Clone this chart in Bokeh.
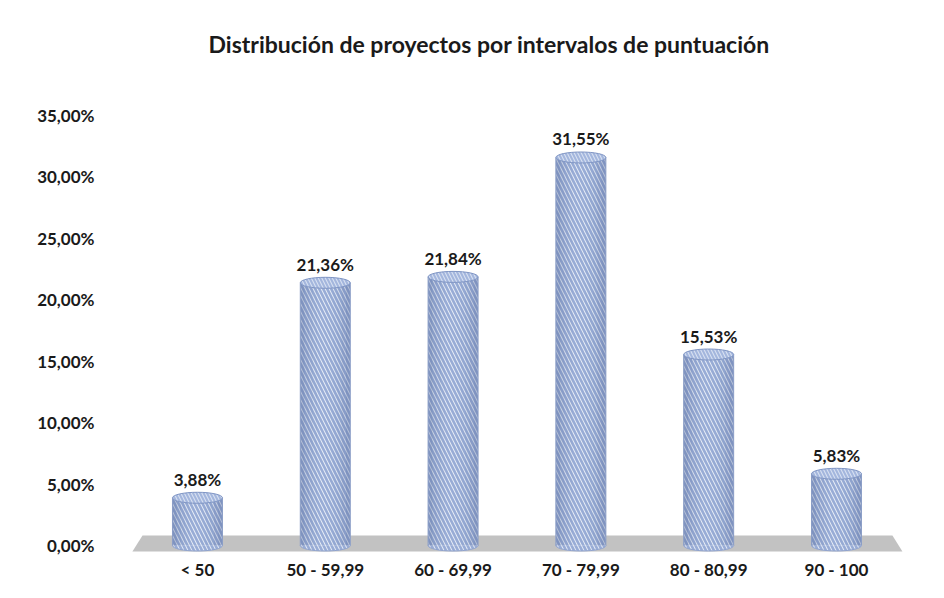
from bokeh.plotting import figure
from bokeh.models import ColumnDataSource, FixedTicker, Title
from bokeh.transform import dodge
from bokeh.core.properties import value
from bokeh.embed import file_html
from bokeh.resources import INLINE

# ---- data ----
categories = ["< 50", "50 - 59,99", "60 - 69,99", "70 - 79,99", "80 - 80,99", "90 - 100"]
values = [3.88, 21.36, 21.84, 31.55, 15.53, 5.83]
value_labels = ["3,88%", "21,36%", "21,84%", "31,55%", "15,53%", "5,83%"]
y_ticks = [0, 5, 10, 15, 20, 25, 30, 35]
y_tick_labels = ["0,00%", "5,00%", "10,00%", "15,00%", "20,00%", "25,00%", "30,00%", "35,00%"]
title_text = "Distribución de proyectos por intervalos de puntuación"

xs = list(range(len(categories)))
src = ColumnDataSource(dict(x=xs, top=values, bottom=[0] * len(xs), lab=value_labels))

FONT = "Lato"
W = 0.391  # bar width in category units
HATCH = dict(hatch_pattern="\\", hatch_color="#98acd6", hatch_scale=8, hatch_weight=2.6)

p = figure(width=928, height=582, x_range=(-0.790, 5.720), y_range=(-0.569, 38.46),
           output_backend="svg", toolbar_location=None,
           min_border_left=96, min_border_right=0, min_border_top=72, min_border_bottom=30,
           background_fill_color="white", border_fill_color="white")
p.outline_line_color = None
p.grid.visible = False

t = Title(text=title_text, align="left", offset=112, text_font=FONT,
          text_font_size="23px", text_font_style="bold", text_color="#1a1a1a", standoff=30)
p.add_layout(t, "above")

# floor (gray parallelogram)
p.patch([-0.43, 5.438, 5.516, -0.509], [0.81, 0.81, -0.49, -0.49],
        fill_color="#c2c2c2", line_color=None)

# bottom ellipse of cylinders
p.ellipse(x="x", y="bottom", width=W, height=11, height_units="screen", source=src,
          fill_color="#e6ebf5", line_color="#8fa2cc", line_width=1, **HATCH)

# cylinder body
p.vbar(x="x", top="top", bottom="bottom", width=W, source=src,
       fill_color="#e8edf6", line_color=None, **HATCH)

# shading strips for cylindrical look
n = 12
alphas = [0.32, 0.2, 0.11, 0.05, 0.0, 0.0, 0.0, 0.02, 0.06, 0.12, 0.21, 0.32]
sw = W / n
for i in range(n):
    off = -W / 2 + sw * (i + 0.5)
    if alphas[i] > 0:
        p.vbar(x=dodge("x", off), top="top", bottom="bottom", width=sw * 1.02, source=src,
               fill_color="#4a5f92", fill_alpha=alphas[i], line_color=None)

# side edges
for side in (-W / 2, W / 2):
    p.segment(x0=dodge("x", side), x1=dodge("x", side), y0="bottom", y1="top", source=src,
              line_color="#8a9dc6", line_width=1)

# top ellipse
p.ellipse(x="x", y="top", width=W, height=11, height_units="screen", source=src,
          fill_color="#d6dff0", line_color="#7f95c4", line_width=1,
          hatch_pattern="\\", hatch_color="#a3b6dd", hatch_scale=7, hatch_weight=2)

# value labels
p.text(x="x", y="top", text="lab", source=src, y_offset=-8,
       text_align="center", text_baseline="bottom", text_font=value(FONT),
       text_font_size="17px", text_font_style="bold", text_color="#1a1a1a")

# axes
p.xaxis.ticker = FixedTicker(ticks=xs)
p.xaxis.major_label_overrides = {i: c for i, c in zip(xs, categories)}
p.yaxis.ticker = FixedTicker(ticks=y_ticks)
p.yaxis.major_label_overrides = {tk: lb for tk, lb in zip(y_ticks, y_tick_labels)}
for ax in (p.xaxis, p.yaxis):
    ax.axis_line_color = None
    ax.major_tick_line_color = None
    ax.minor_tick_line_color = None
    ax.major_tick_out = 0
    ax.major_tick_in = 0
    ax.minor_tick_out = 0
    ax.major_label_text_font = FONT
    ax.major_label_text_font_size = "17px"
    ax.major_label_text_font_style = "bold"
    ax.major_label_text_color = "#1a1a1a"
p.xaxis.major_label_standoff = 6
p.yaxis.major_label_standoff = 2

open("out.html", "w").write(file_html(p, INLINE))
